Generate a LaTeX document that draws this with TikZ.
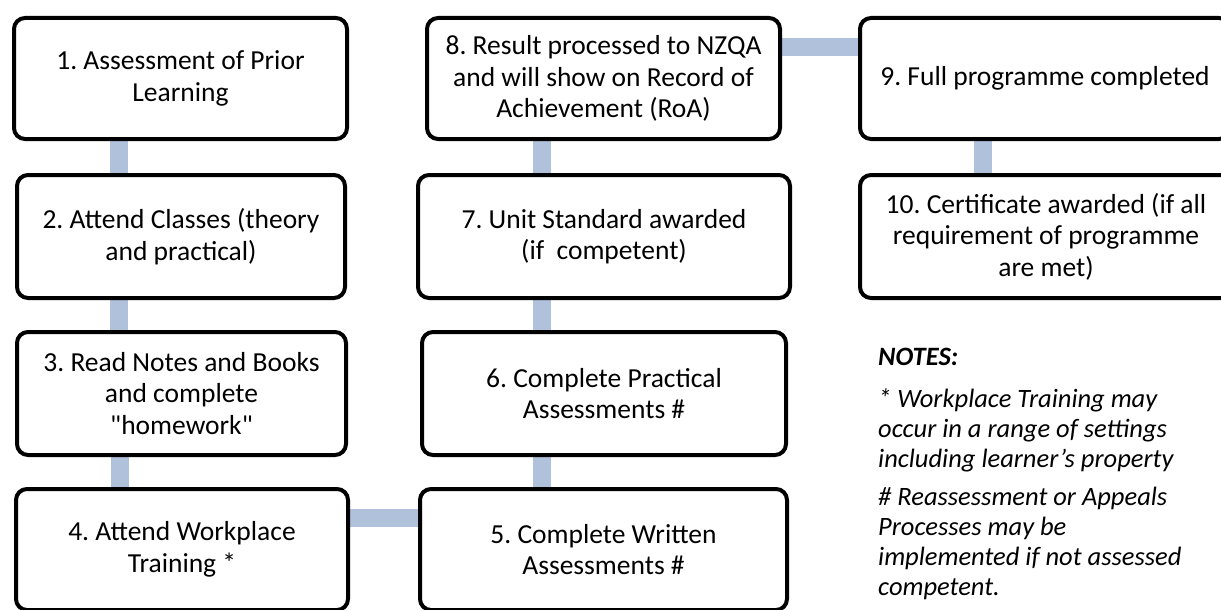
\documentclass[tikz,border=0pt]{standalone}
\usepackage{fontspec}
\setmainfont{Carlito}
\newfontfamily\rawfont{Carlito}
\usetikzlibrary{backgrounds}
\definecolor{barblue}{HTML}{B0C1DC}
\frenchspacing
\tikzset{
  stepbox/.style={draw=black, line width=4pt, rounded corners=11pt, fill=white,
    align=center, inner sep=0pt, font=\fontsize{27.5}{31.5}\selectfont\frenchspacing},
  conn/.style={draw=barblue, line width=18pt},
  notetext/.style={align=left, inner sep=0pt, anchor=base west,
    font=\fontsize{26.5}{29.8}\selectfont\itshape\frenchspacing}
}
\begin{document}
\begin{tikzpicture}[x=1pt,y=-1pt]
\useasboundingbox (0,0) rectangle (1221,610);
% boxes
\node[stepbox, minimum width=333pt, minimum height=121pt] (b1) at (180.5,78.5) {1. Assessment of Prior\\Learning};
\node[stepbox, minimum width=328pt, minimum height=123pt] (b2) at (181,236.5) {2. Attend Classes (theory\\and practical)};
\node[stepbox, minimum width=329pt, minimum height=123pt] (b3) at (181.5,393.5) {3. Read Notes and Books\\and complete\\{\rawfont"}homework{\rawfont"}};
\node[stepbox, minimum width=332pt, minimum height=121pt] (b4) at (182,549.5) {4. Attend Workplace\\Training *};
\node[stepbox, minimum width=367pt, minimum height=121pt] (b5) at (603.5,549.5) {5. Complete Written\\Assessments \#};
\node[stepbox, minimum width=364pt, minimum height=123pt] (b6) at (604,393.5) {6. Complete Practical\\Assessments \#};
\node[stepbox, minimum width=372pt, minimum height=123pt] (b7) at (604,236.5) {7. Unit Standard awarded\\(if~ competent)};
\node[stepbox, minimum width=353pt, minimum height=121pt] (b8) at (603.5,78.5) {8. Result processed to NZQA\\and will show on Record of\\Achievement (RoA)};
\node[stepbox, minimum width=370pt, minimum height=121pt] (b9) at (1045,78.5) {9. Full programme completed};
\node[stepbox, minimum width=372pt, minimum height=123pt] (b10) at (1046,236.5) {10. Certificate awarded (if all\\requirement of programme\\are met)};
% notes
\node[notetext, font=\fontsize{26.5}{29.8}\selectfont\bfseries\itshape] (n0) at (878,365) {NOTES:};
\node[notetext] (n1) at (878,467) {* Workplace Training may\\occur in a range of settings\\including learner’s property};
\node[notetext] (n2) at (878,595) {\# Reassessment or Appeals\\Processes may be\\implemented if not assessed\\competent.};
% connectors
\begin{pgfonlayer}{background}
\draw[conn] ([xshift=-62pt]b1.south) -- ([xshift=-62pt]b1.south |- b2.north);
\draw[conn] ([xshift=-62pt]b2.south) -- ([xshift=-62pt]b2.south |- b3.north);
\draw[conn] ([xshift=-62pt]b3.south) -- ([xshift=-62pt]b3.south |- b4.north);
\draw[conn] ([yshift=32pt]b4.east) -- ([yshift=32pt]b4.east -| b5.west);
\draw[conn] ([xshift=-62pt]b5.north) -- ([xshift=-62pt]b5.north |- b6.south);
\draw[conn] ([xshift=-62pt]b6.north) -- ([xshift=-62pt]b6.north |- b7.south);
\draw[conn] ([xshift=-62pt]b7.north) -- ([xshift=-62pt]b7.north |- b8.south);
\draw[conn] ([yshift=31pt]b8.east) -- ([yshift=31pt]b8.east -| b9.west);
\draw[conn] ([xshift=-62pt]b9.south) -- ([xshift=-62pt]b9.south |- b10.north);
\end{pgfonlayer}
\end{tikzpicture}
\end{document}
